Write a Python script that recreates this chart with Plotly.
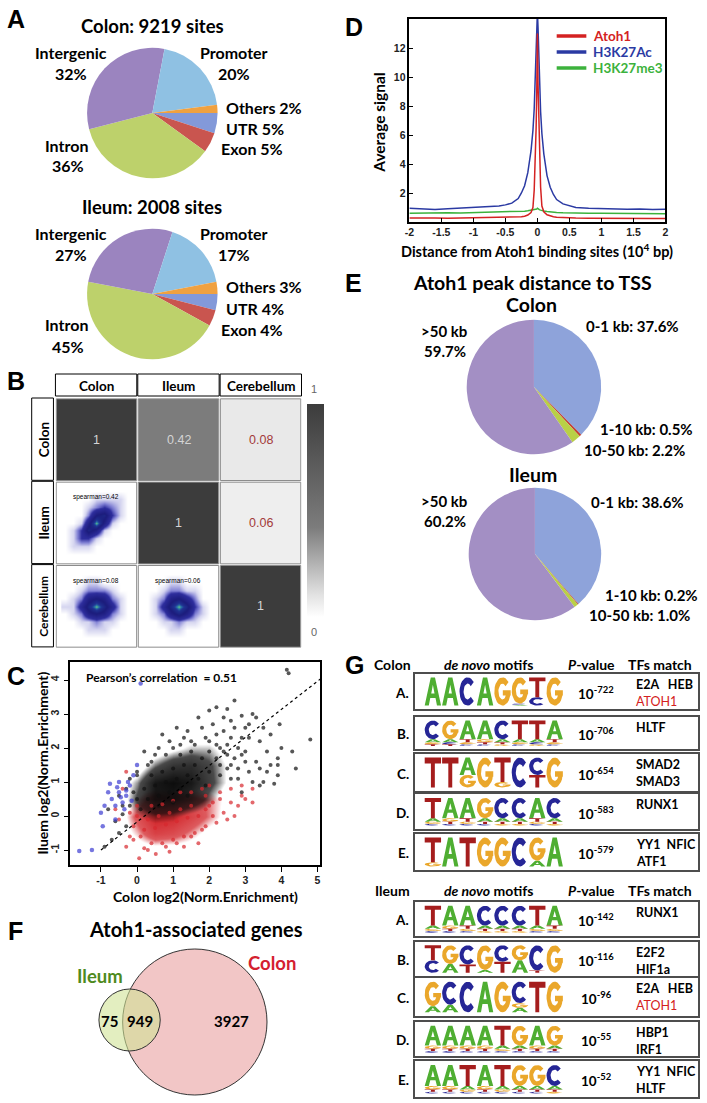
import math
import plotly.graph_objects as go

W, H = 707, 1103
TXT = "Lato, 'Open Sans', sans-serif"
NUM = "'Liberation Sans', Arial, sans-serif"


def fx(x):
    return x / W


def fy(y):
    return 1 - y / H


# ---------------- data ----------------
# A: genomic annotation of Atoh1 binding sites
anno_regions = ["UTR", "Exon", "Intron", "Intergenic", "Promoter", "Others"]
colon_anno_pct = [5, 5, 36, 32, 20, 2]
ileum_anno_pct = [4, 4, 45, 27, 17, 3]
colon_sites = 9219
ileum_sites = 2008

# B: correlation matrix
tissues = ["Colon", "Ileum", "Cerebellum"]
corr_values = [[1, 0.42, 0.08], [None, 1, 0.06], [None, None, 1]]
spearman_cells = [(1, 0, 0.42), (2, 0, 0.08), (2, 1, 0.06)]
grid_pos = [0.1, 0.2, 0.3, 0.4, 0.5, 0.6, 0.7, 0.8, 0.9]
dens_ileum_colon = [
    [0, 0, 0, 0, 0, 0, 0, 0, 0],
    [0, 1, 1, 1, 0, 0, 0, 0, 0],
    [0, 1, 3, 3, 1, 0, 0, 0, 0],
    [0, 1, 3, 7, 5, 1, 0, 0, 0],
    [0, 0, 1, 5, 10, 5, 1, 0, 0],
    [0, 0, 0, 2, 6, 7, 3, 1, 0],
    [0, 0, 0, 1, 2, 3, 2, 1, 0],
    [0, 0, 0, 0, 1, 1, 1, 1, 0],
    [0, 0, 0, 0, 0, 0, 0, 0, 0],
]
dens_cereb_colon = [
    [0, 0, 0, 0, 0, 0, 0, 0, 0],
    [0, 0, 0, 1, 1, 1, 0, 0, 0],
    [0, 0, 1, 1, 2, 1, 1, 0, 0],
    [0, 1, 2, 5, 6, 5, 2, 1, 0],
    [1, 1, 4, 7, 10, 7, 4, 1, 0],
    [0, 1, 2, 5, 6, 5, 2, 1, 0],
    [0, 0, 1, 2, 2, 2, 1, 0, 0],
    [0, 0, 0, 1, 1, 0, 0, 0, 0],
    [0, 0, 0, 0, 0, 0, 0, 0, 0],
]
dens_cereb_ileum = [
    [0, 0, 0, 0, 0, 0, 0, 0, 0],
    [0, 0, 0, 1, 1, 0, 0, 0, 0],
    [0, 0, 1, 1, 2, 1, 1, 0, 0],
    [0, 1, 2, 5, 7, 5, 2, 1, 0],
    [0, 1, 4, 7, 10, 7, 3, 1, 0],
    [0, 1, 2, 5, 6, 4, 2, 0, 0],
    [0, 0, 1, 2, 2, 1, 1, 0, 0],
    [0, 0, 0, 1, 1, 0, 0, 0, 0],
    [0, 0, 0, 0, 0, 0, 0, 0, 0],
]

# C: colon vs ileum enrichment
c_grid_x = [-0.5, 0.0, 0.5, 1.0, 1.5, 2.0, 2.5, 3.0]
c_black_grid_y = [-0.5, 0.0, 0.5, 1.0, 1.5, 2.0, 2.5]
c_black_density = [
    [0, 0, 0, 0, 0, 0, 0, 0],
    [0, 0.2, 0.35, 0.3, 0.1, 0, 0, 0],
    [0, 0.5, 0.9, 0.9, 0.7, 0.35, 0, 0],
    [0, 0.35, 0.9, 1.0, 0.9, 0.55, 0.2, 0],
    [0, 0, 0.4, 0.65, 0.7, 0.5, 0.2, 0],
    [0, 0, 0, 0.15, 0.3, 0.3, 0.1, 0],
    [0, 0, 0, 0, 0, 0, 0, 0],
]
c_red_grid_y = [-1.0, -0.5, 0.0, 0.5, 1.0]
c_red_density = [
    [0, 0, 0, 0, 0, 0, 0, 0],
    [0, 0.3, 0.7, 0.6, 0.35, 0.1, 0, 0],
    [0, 0.55, 1.0, 0.95, 0.7, 0.4, 0.1, 0],
    [0, 0.25, 0.6, 0.6, 0.55, 0.4, 0.15, 0],
    [0, 0, 0, 0, 0, 0, 0, 0],
]
c_black_x = [0.3, 0.6, 0.9, 1.2, 0.5, 0.8, 1.1, 1.4, 0.2, 0.0, 0.4, 0.7, 1.0, 1.3, 1.6, 1.8, 1.5, 2.0,
             2.2, 1.7, 2.0, 1.9, 2.3, 2.5, 0.1, -0.2, -0.1, 0.6, 1.0, 1.4, 0.3, 1.2, 2.6, 2.8, 2.4, 1.9,
             2.7, 2.2, 2.5, 2.9, 3.2, 3.0, 3.4, 3.6, 3.3, 3.7, 3.9, 3.9, 3.6, 3.2, 2.9, 0.7, 1.3, 1.5,
             4.15, 4.2, 4.8, 3.95, 3.5, 3.1, 2.8, 2.6, 3.4, 2.1, 1.8, 1.0, 0.5, -0.2, -0.5, -0.8,
             -0.9, -0.7, -0.5, -0.3, 3.9, 4.0, 3.7, 2.4, 3.3, 1.7, 2.2, 2.7, 3.0, 2.6, 2.3, 0.2,
             0.9, 3.5, 3.1, 2.9, 3.4, 2.5, 4.3, 4.4, 3.8, 2.0, 1.1, -0.6, -0.4, 0.0,
             2.4, 2.7, 2.2, 2.0, 1.6, 1.2, 0.8, 0.4, 0.0, -0.3, 2.9, 3.1, 2.6, 2.3, 2.5, 2.8, 3.0,
             1.4, 0.6, -0.4]
c_black_y = [0.5, 0.6, 0.7, 0.8, 0.9, 1.0, 1.1, 1.2, 0.8, 0.5, 1.2, 1.3, 1.4, 1.5, 1.5, 1.7, 1.9, 1.9,
             2.1, 1.1, 1.3, 0.9, 1.5, 1.8, 0.2, 0.3, 0.7, 0.3, 0.4, 0.6, 1.5, 1.8, 2.3, 2.0, 2.5, 2.3,
             3.4, 3.2, 3.15, 2.95, 3.0, 2.6, 2.2, 1.9, 1.6, 1.5, 1.7, 1.5, 1.3, 1.0, 0.7, 2.4, 2.3, 2.2,
             4.3, 4.2, 2.25, 2.7, 2.6, 2.3, 1.4, 1.1, 0.9, 2.7, 2.6, 2.0, 1.8, 1.1, 0.6, 0.2,
             -0.9, -0.7, -0.5, -0.3, 1.2, 2.0, 2.4, 2.9, 2.9, 2.9, 2.4, 2.6, 1.9, 1.5, 1.2, 1.9,
             2.2, 1.0, 1.3, 1.8, 1.4, 2.1, 1.9, 1.4, 0.95, 3.1, 2.6, -0.15, 0.05, 1.3,
             1.9, 1.7, 1.7, 2.2, 2.1, 2.1, 1.8, 1.6, 1.2, 0.8, 2.3, 2.7, 2.8, 2.0, 1.4, 1.1, 1.6,
             2.5, 2.0, 0.3]
c_red_x = [0.52, 0.06, -0.2, -0.3, 0.2, 0.8, 1.1, 1.5, 1.8, 2.2, 2.4, 2.6, 2.8, 2.3, 3.0, 2.0, 1.8, 2.5,
           -0.5, -0.6, -0.4, -0.3, 0.9, 1.3, 2.7, 1.2, 0.0, 0.3, 0.6, 0.9, 1.2, 1.5, 0.2, 0.5, 0.8,
           1.1, 1.4, 1.7, 1.9, 2.1, 0.4, 0.7, 1.0, -0.1, 3.2, 2.9,
           1.6, 1.9, 2.1, 2.3, 1.9, 0.1, -0.1, 0.4, 0.7, 1.0, 1.3, 2.6, 2.9, 3.2, 0.0, -0.2, 1.5,
           2.0, 0.3, 1.7]
c_red_y = [-1.12, -1.24, -0.6, -0.9, -0.95, -0.9, -0.8, -0.6, -0.4, -0.2, 0.1, 0.4, 0.3, 0.7, 0.5, 0.9,
           0.8, -0.1, -0.1, 0.2, 0.8, 1.3, -1.05, -0.9, 0.0, 0.7, 0.0, -0.1, 0.0, 0.1, 0.2, 0.3, -0.4,
           -0.35, -0.25, -0.15, -0.05, 0.0, 0.2, 0.4, 0.3, 0.35, 0.45, -0.7, 0.8, 0.6,
           -0.5, -0.3, 0.0, 0.5, 0.6, -0.6, -0.3, -0.8, -0.8, -0.7, -0.6, 0.8, 0.9, 0.4, 0.3, 0.1, 0.7,
           0.3, -1.0, -0.8]
c_blue_x = [-0.7, -0.5, -0.6, -0.4, -0.3, -0.2, -0.5, -0.8, -0.35, -0.1, 0.0, -0.9, -0.6, 0.1, -1.6,
            -1.25, -1.0, -0.25, -0.45, -0.15, -0.95, -0.55, -0.75, -0.3]
c_blue_y = [0.5, 0.7, 0.3, 0.4, 0.6, 0.9, 1.0, 0.7, 0.2, 1.2, 1.5, 0.3, -0.1, 3.9, -1.03, -1.0, 0.1,
            1.0, 0.55, 0.45, -0.3, 0.85, 0.95, 0.75]
fit_x = [-1.0, 5.08]
fit_y = [-1.0, 4.03]
pearson_r = 0.51
c_xticks = [-1, 0, 1, 2, 3, 4, 5]
c_yticks = [-1, 0, 1, 2, 3, 4]

# D: average signal around Atoh1 sites
d_x = [-2.0, -1.8, -1.6, -1.4, -1.2, -1.0, -0.8, -0.6, -0.5, -0.4, -0.3, -0.25, -0.2, -0.15, -0.1,
       -0.07, -0.05, -0.03, -0.02, -0.01, 0.0, 0.01, 0.02, 0.03, 0.05, 0.07, 0.1, 0.15, 0.2, 0.25,
       0.3, 0.4, 0.5, 0.6, 0.8, 1.0, 1.2, 1.4, 1.6, 1.8, 2.0]
d_atoh1 = [0.28, 0.25, 0.27, 0.26, 0.28, 0.27, 0.29, 0.3, 0.3, 0.32, 0.35, 0.37, 0.4, 0.48, 0.65,
           1.0, 2.2, 4.5, 6.5, 9.0, 13.0, 9.5, 7.0, 5.0, 2.4, 1.1, 0.7, 0.5, 0.42, 0.36,
           0.33, 0.3, 0.28, 0.27, 0.26, 0.25, 0.26, 0.24, 0.25, 0.24, 0.25]
d_h3k27ac = [0.94, 0.9, 0.87, 0.92, 0.96, 0.98, 1.04, 1.1, 1.18, 1.3, 1.62, 2.0, 2.5, 3.4, 4.9,
             6.3, 7.8, 10.0, 11.6, 13.2, 14.5, 13.4, 11.4, 9.8, 7.6, 6.1, 4.7, 3.2, 2.4, 1.9,
             1.55, 1.25, 1.1, 1.0, 0.95, 0.92, 0.9, 0.88, 0.9, 0.86, 0.88]
d_h3k27me3 = [0.6, 0.62, 0.6, 0.63, 0.62, 0.64, 0.65, 0.67, 0.68, 0.7, 0.72, 0.73, 0.75, 0.77, 0.8,
              0.82, 0.84, 0.86, 0.88, 0.9, 0.95, 0.9, 0.87, 0.85, 0.82, 0.79, 0.76, 0.73, 0.7, 0.68,
              0.66, 0.64, 0.62, 0.61, 0.6, 0.6, 0.59, 0.6, 0.58, 0.58, 0.57]
d_xticks = [-2, -1.5, -1, -0.5, 0, 0.5, 1, 1.5, 2]
d_xticktext = ["-2", "-1.5", "-1", "-0.5", "0", "0.5", "1", "1.5", "2"]
d_yticks = [2, 4, 6, 8, 10, 12]

# E: distance to TSS
tss_bins = ["0-1 kb", "1-10 kb", "10-50 kb", ">50 kb"]
colon_tss_pct = [37.6, 0.5, 2.2, 59.7]
ileum_tss_pct = [38.6, 0.2, 1.0, 60.2]

# F: Atoh1-associated genes
venn_ileum_only = 75
venn_shared = 949
venn_colon_only = 3927

# G: de novo motifs (columns, bottom -> top, "letter:height")
colon_motifs = [
    ["A:1", "A:1", "C:1", "A:1", "G:1", "A:.03 C:.04 G:.93", "C:.3 T:.7", "G:1"],
    ["T:.06 G:.08 A:.12 C:.72", "T:.06 C:.08 A:.12 G:.72", "C:.06 G:.08 T:.12 A:.72",
     "C:.06 T:.08 G:.12 A:.72", "G:.06 T:.08 A:.12 C:.72", "C:.06 G:.08 A:.12 T:.72",
     "G:.06 C:.08 A:.12 T:.72", "C:.06 G:.08 T:.12 A:.72"],
    ["T:1", "T:1", "G:.42 A:.58", "G:1", "G:.18 T:.82", "C:1", "T:.42 C:.58", "G:1"],
    ["C:.06 G:.08 A:.12 T:.72", "C:.06 T:.08 G:.12 A:.72", "C:.06 G:.08 T:.12 A:.72",
     "C:.06 T:.08 A:.12 G:.72", "G:.06 T:.08 A:.12 C:.72", "G:.06 T:.08 A:.12 C:.72",
     "C:.06 G:.08 T:.12 A:.72", "G:.06 T:.08 A:.12 C:.72"],
    ["G:.15 T:.85", "A:1", "T:1", "G:1", "G:1", "C:1", "A:.2 G:.8", "A:1"],
]
colon_pvals = [722, 706, 654, 583, 579]
colon_tfs = [["E2A   HEB", "ATOH1"], ["HLTF", ""], ["SMAD2", "SMAD3"], ["RUNX1", ""], ["YY1  NFIC", "ATF1"]]
ileum_motifs = [
    ["C:.06 G:.08 A:.12 T:.72", "C:.06 T:.08 G:.12 A:.72", "C:.06 G:.08 T:.12 A:.72",
     "G:.06 T:.08 A:.12 C:.72", "G:.06 T:.08 A:.12 C:.72", "G:.06 T:.08 A:.12 C:.72",
     "C:.06 G:.08 A:.12 T:.72", "C:.06 G:.08 T:.12 A:.72"],
    ["C:.45 T:.55", "A:.32 G:.68", "T:.3 C:.7", "A:.1 G:.9", "T:.4 C:.6", "A:.45 G:.55",
     "T:.08 C:.92", "G:1"],
    ["A:.2 G:.8", "A:.25 C:.75", "C:1", "A:1", "G:1", "A:.15 G:.15 C:.7", "T:1", "G:1"],
    ["C:.06 T:.08 G:.12 A:.72", "C:.06 T:.08 G:.12 A:.72", "C:.06 T:.08 G:.12 A:.72",
     "C:.06 T:.08 G:.12 A:.72", "C:.06 G:.08 A:.12 T:.72", "C:.06 T:.08 A:.12 G:.72",
     "C:.06 T:.08 G:.12 A:.72", "C:.06 T:.08 A:.12 G:.72"],
    ["C:.06 T:.08 G:.12 A:.72", "C:.06 T:.08 G:.12 A:.72", "C:.06 G:.08 A:.12 T:.72",
     "C:.06 T:.08 G:.12 A:.72", "C:.06 G:.08 A:.12 T:.72", "C:.06 T:.08 A:.12 G:.72",
     "C:.06 T:.08 A:.12 G:.72", "G:.06 T:.08 A:.12 C:.72"],
]
ileum_pvals = [142, 116, 96, 55, 52]
ileum_tfs = [["RUNX1", ""], ["E2F2", "HIF1a"], ["E2A   HEB", "ATOH1"], ["HBP1", "IRF1"], ["YY1  NFIC", "HLTF"]]

# ---------------- figure ----------------
fig = go.Figure()
annotations = []
shapes = []
axes = {}


def text(x, y, s, size=13, color="black", family=TXT, bold=True, xanchor="center", angle=0):
    if bold:
        s = f"<b>{s}</b>"
    annotations.append(dict(x=fx(x), y=fy(y), xref="paper", yref="paper", text=s, showarrow=False,
                            font=dict(size=size, color=color, family=family), xanchor=xanchor,
                            yanchor="middle", textangle=angle))


def box(x0, y0, x1, y1, color="black", width=1):
    shapes.append(dict(type="rect", xref="paper", yref="paper", x0=fx(x0), x1=fx(x1),
                       y0=fy(y1), y1=fy(y0), line=dict(color=color, width=width)))


def add_axes(n, x0, y0, x1, y1, xr, yr, xopts=None, yopts=None):
    suffix = "" if n == 1 else str(n)
    base = dict(showgrid=False, zeroline=False, showticklabels=False, ticks="", fixedrange=True)
    axes["xaxis" + suffix] = dict(base, domain=[fx(x0), fx(x1)], range=xr, anchor="y" + suffix,
                                  **(xopts or {}))
    axes["yaxis" + suffix] = dict(base, domain=[fy(y1), fy(y0)], range=yr, anchor="x" + suffix,
                                  **(yopts or {}))


def bold_ticks(vals, labels=None):
    labels = labels or [f"{v:g}" for v in vals]
    return dict(tickvals=vals, ticktext=[f"<b>{t}</b>" for t in labels])


# panel letters
for letter, (x, y) in {"A": (11, 19), "B": (11, 381), "C": (11, 676), "D": (353, 27),
                       "E": (352, 283), "F": (11, 931), "G": (353, 665)}.items():
    text(x, y, letter, size=25, family=NUM)

# ---- A ----
anno_colors = {"UTR": "#8399d9", "Exon": "#c9554f", "Intron": "#bdd16b",
               "Intergenic": "#9b84bf", "Promoter": "#8fc1e3", "Others": "#f0a140"}
for pct, (cx, cy, r) in [(colon_anno_pct, (149, 113, 66)), (ileum_anno_pct, (149, 294, 66))]:
    fig.add_trace(go.Pie(
        labels=anno_regions, values=pct, sort=False, direction="clockwise", rotation=90,
        textinfo="none", showlegend=False, hoverinfo="label+percent",
        marker=dict(colors=[anno_colors[k] for k in anno_regions], line=dict(width=0)),
        domain=dict(x=[fx(cx - r), fx(cx + r)], y=[fy(cy + r), fy(cy - r)]),
    ))
text(149, 26, f"Colon: {colon_sites} sites", size=18.5)
text(149, 207, f"Ileum: {ileum_sites} sites", size=18.5)
for pct, dy in [(colon_anno_pct, 0), (ileum_anno_pct, 180)]:
    v = dict(zip(anno_regions, pct))
    text(67, 53 + dy, "Intergenic", size=16)
    text(67, 74 + dy, f"{v['Intergenic']}%", size=16)
    text(232, 53 + dy, "Promoter", size=16)
    text(232, 74 + dy, f"{v['Promoter']}%", size=16)
    text(62, 145 + dy, "Intron", size=16)
    text(64, 166 + dy, f"{v['Intron']}%", size=16)
    text(222, 107 + dy, f"Others {v['Others']}%", size=16, xanchor="left")
    text(222, 128 + dy, f"UTR {v['UTR']}%", size=16, xanchor="left")
    text(216, 149 + dy, f"Exon {v['Exon']}%", size=16, xanchor="left")

# ---- B ----
add_axes(1, 51, 398, 300, 648, [-0.5, 2.5], [2.5, -0.5])
fig.add_trace(go.Heatmap(
    x=[0, 1, 2], y=[0, 1, 2], z=corr_values, zmin=0, zmax=1, xgap=2, ygap=2,
    colorscale=[[0, "#ffffff"], [0.1, "#e3e3e3"], [0.42, "#7c7c7c"], [1, "#3c3c3c"]],
    hoverinfo="skip",
    colorbar=dict(x=fx(305), xanchor="left", y=fy(617), yanchor="bottom", len=213 / H,
                  thickness=17, outlinewidth=0, showticklabels=False, ticks="", xpad=0, ypad=0),
))
for i in range(3):
    for j in range(3):
        shapes.append(dict(type="rect", xref="x", yref="y", x0=j - 0.49, x1=j + 0.49,
                           y0=i - 0.49, y1=i + 0.49, line=dict(color="#8c8c8c", width=1)))
        val = corr_values[i][j]
        if val is not None:
            col = "#a33a3a" if val < 0.2 else "#d4d4d4"
            annotations.append(dict(x=j, y=i, xref="x", yref="y", text=f"{val:g}", showarrow=False,
                                    font=dict(size=12.5, color=col, family=NUM)))
for k, name in enumerate(tissues):
    box(51 + k * 83.3, 374, 51 + (k + 1) * 83.3 - 1, 396)
    text(51 + (k + 0.5) * 83.3, 386, name, size=13.5)
    box(27, 398 + k * 83.3, 49, 398 + (k + 1) * 83.3 - 1)
    text(39, 398 + (k + 0.5) * 83.3, name, size=13.5 if k < 2 else 12, angle=-90)
text(313, 389, "1", size=11, color="#666", family=NUM, bold=False)
text(313, 632, "0", size=11, color="#666", family=NUM, bold=False)

dens_scale = [[0, "#ffffff"], [0.1, "#d6d6f0"], [0.2, "#8080d4"], [0.3, "#2e2e9e"],
              [0.6, "#1c1c7c"], [0.82, "#203494"], [0.93, "#2c86ac"], [1, "#70c878"]]
for n, (row, col, rho), dens in zip([2, 3, 4], spearman_cells,
                                   [dens_ileum_colon, dens_cereb_colon, dens_cereb_ileum]):
    x0 = 51 + col * 83.3 + 2
    y0 = 398 + row * 83.3 + 2
    add_axes(n, x0, y0, x0 + 79, y0 + 79, [0, 1], [0, 1])
    fig.add_trace(go.Heatmap(x=grid_pos, y=grid_pos, z=dens, zsmooth="best", colorscale=dens_scale,
                             zmin=0, zmax=10, showscale=False, hoverinfo="skip",
                             xaxis=f"x{n}", yaxis=f"y{n}"))
    text(x0 + 39, y0 + 14, f"spearman={rho:g}", size=6.5, family=NUM, bold=False)

# ---- C ----
tick_font = dict(size=10.5, family=NUM, color="#222")
frame = dict(showline=True, mirror=True, linecolor="black", linewidth=1.5, ticks="outside",
             ticklen=5, tickcolor="black", showticklabels=True, tickfont=tick_font)
add_axes(5, 66, 662, 319, 865, [-1.85, 5.08], [-1.44, 4.53],
         xopts=dict(frame, **bold_ticks(c_xticks)),
         yopts=dict(frame, tickangle=-90, **bold_ticks(c_yticks)))
for xs, ys, dens, color in [(c_grid_x, c_red_grid_y, c_red_density, "210,35,40"),
                            (c_grid_x, c_black_grid_y, c_black_density, "12,12,12")]:
    fig.add_trace(go.Heatmap(
        x=xs, y=ys, z=dens, zmin=0, zmax=1, zsmooth="best", showscale=False, hoverinfo="skip",
        colorscale=[[0, f"rgba({color},0)"], [0.22, f"rgba({color},0)"],
                    [0.45, f"rgba({color},0.75)"], [1, f"rgba({color},1)"]],
        xaxis="x5", yaxis="y5"))
for xs, ys, color, size in [(c_red_x, c_red_y, "rgba(215,40,45,0.7)", 4),
                            (c_black_x, c_black_y, "rgba(15,15,15,0.7)", 4),
                            (c_blue_x, c_blue_y, "rgba(60,60,210,0.7)", 4.5)]:
    fig.add_trace(go.Scatter(x=xs, y=ys, mode="markers", marker=dict(color=color, size=size),
                             xaxis="x5", yaxis="y5", showlegend=False, hoverinfo="skip"))
fig.add_trace(go.Scatter(x=fit_x, y=fit_y, mode="lines", line=dict(color="black", width=1.2, dash="dot"),
                         xaxis="x5", yaxis="y5", showlegend=False, hoverinfo="skip"))
text(80, 677, f"Pearson’s correlation  = {pearson_r}", size=12, xanchor="left")
text(203, 896, "Colon log2(Norm.Enrichment)", size=14)
text(37, 763, "Iluem log2(Norm.Enrichment)", size=14, angle=-90)

# ---- D ----
frame_in = dict(frame, ticks="inside", ticklen=4)
add_axes(6, 409, 19, 668, 222, [-2, 2], [0, 14],
         xopts=dict(frame_in, **bold_ticks(d_xticks, d_xticktext)),
         yopts=dict(frame_in, **bold_ticks(d_yticks)))
d_series = [("Atoh1", d_atoh1, "#d42222"), ("H3K27Ac", d_h3k27ac, "#2b3aa3"),
            ("H3K27me3", d_h3k27me3, "#3cb23c")]
for name, ys, color in [d_series[2], d_series[1], d_series[0]]:
    fig.add_trace(go.Scatter(x=d_x, y=ys, mode="lines", line=dict(color=color, width=1.5),
                             name=name, xaxis="x6", yaxis="y6", showlegend=False))
for k, (name, ys, color) in enumerate(d_series):
    y = 36 + k * 16
    shapes.append(dict(type="line", xref="paper", yref="paper", x0=fx(558), x1=fx(588),
                       y0=fy(y), y1=fy(y), line=dict(color=color, width=3.5)))
    text(593, y, name, size=13.5, color=color, xanchor="left")
text(378, 123, "Average signal", size=15.5, angle=-90)
text(538, 250, "Distance from Atoh1 binding sites (10<sup>4</sup> bp)", size=14.5)

# ---- E ----
tss_colors = ["#8ea3da", "#c23b30", "#b9d046", "#a38fc4"]
for pct, (cx, cy, r) in [(colon_tss_pct, (535, 387, 68)), (ileum_tss_pct, (536, 554, 67))]:
    fig.add_trace(go.Pie(
        labels=tss_bins, values=pct, sort=False, direction="clockwise", rotation=0,
        textinfo="none", showlegend=False, hoverinfo="label+percent",
        marker=dict(colors=tss_colors, line=dict(width=0)),
        domain=dict(x=[fx(cx - r), fx(cx + r)], y=[fy(cy + r), fy(cy - r)]),
    ))
text(534, 282, "Atoh1 peak distance to TSS", size=19.5)
text(533, 304, "Colon", size=19.5)
text(534, 475, "Ileum", size=19.5)
for pct, ys, shift in [(colon_tss_pct, (331, 351, 326, 429, 450), 0),
                       (ileum_tss_pct, (501, 521, 502, 595, 615), 5)]:
    text(444, ys[0], tss_bins[3], size=15)
    text(445, ys[1], f"{pct[3]}%", size=15)
    text(586 + shift, ys[2], f"{tss_bins[0]}: {pct[0]}%", size=15, xanchor="left")
    text(600 + shift, ys[3], f"{tss_bins[1]}: {pct[1]}%", size=15, xanchor="left")
    text(584 + shift, ys[4], f"{tss_bins[2]}: {pct[2]:.1f}%", size=15, xanchor="left")

# ---- F ----
add_axes(7, 0, 940, 330, 1103, [0, 330], [0, 163])
shapes.append(dict(type="circle", xref="x7", yref="y7", x0=119, x1=265, y0=8, y1=154,
                   fillcolor="#f2c6c6", line=dict(color="#333", width=1)))
shapes.append(dict(type="circle", xref="x7", yref="y7", x0=95, x1=157, y0=52, y1=114,
                   fillcolor="rgba(208,226,150,0.6)", line=dict(color="#333", width=1)))
fig.add_trace(go.Scatter(x=[None], y=[None], xaxis="x7", yaxis="y7", showlegend=False))
for x, val in [(106, venn_ileum_only), (137, venn_shared), (229, venn_colon_only)]:
    annotations.append(dict(x=x, y=82, xref="x7", yref="y7", text=f"<b>{val}</b>", showarrow=False,
                            font=dict(size=15, family=TXT, color="black")))
text(193, 929, "Atoh1-associated genes", size=20)
text(96, 976, "Ileum", size=18.5, color="#4e8a20")
text(270, 963, "Colon", size=18.5, color="#d42030")

# ---- G ----
LETTER_COLORS = {"A": "#4fae32", "C": "#262696", "G": "#eaa72b", "T": "#a51d1d"}


def arc(cx, cy, rx, ry, a0, a1, n=24):
    return [(cx + rx * math.cos(math.radians(a0 + (a1 - a0) * i / n)),
             cy + ry * math.sin(math.radians(a0 + (a1 - a0) * i / n))) for i in range(n + 1)]


def glyph(letter):
    if letter == "T":
        return [[(0, 1), (1, 1), (1, 0.8), (0.62, 0.8), (0.62, 0), (0.38, 0), (0.38, 0.8), (0, 0.8)]], []
    if letter == "A":
        return ([[(0, 0), (0.37, 1), (0.63, 1), (1, 0), (0.75, 0), (0.66, 0.27), (0.34, 0.27), (0.25, 0)]],
                [[(0.4, 0.43), (0.6, 0.43), (0.5, 0.74)]])
    if letter == "C":
        return [arc(0.5, 0.5, 0.5, 0.5, 42, 318) + arc(0.5, 0.5, 0.25, 0.28, 318, 42)], []
    return [arc(0.5, 0.5, 0.5, 0.5, 42, 360) + arc(0.5, 0.5, 0.25, 0.28, 360, 42),
            [(0.52, 0.36), (1, 0.36), (1, 0.54), (0.52, 0.54)]], []


def add_logo(n, columns):
    pts = {k: ([], []) for k in LETTER_COLORS}
    holes = ([], [])
    for k, col in enumerate(columns, start=1):
        base = 0.0
        for item in col.split():
            letter, h = item.split(":")
            h = float(h)
            polys, cut = glyph(letter)
            for target, group in [(pts[letter], polys), (holes, cut)]:
                for poly in group:
                    for ux, uy in poly:
                        target[0].append(k - 0.47 + 0.94 * ux)
                        target[1].append(base + h * uy)
                    target[0].append(None)
                    target[1].append(None)
            base += h
    for letter, color in list(LETTER_COLORS.items()) + [("hole", "#ffffff")]:
        xs, ys = holes if letter == "hole" else pts[letter]
        fig.add_trace(go.Scatter(x=xs, y=ys, mode="lines", fill="toself", fillcolor=color,
                                 line=dict(width=0, color=color), xaxis=f"x{n}", yaxis=f"y{n}",
                                 showlegend=False, hoverinfo="skip"))


logo_frame = dict(showline=True, mirror=True, linecolor="#4d4d4d", linewidth=2)
colon_boxes = [(674, 709), (717, 749), (754, 791), (794, 829), (834, 870)]
ileum_boxes = [(902, 936), (942, 976), (978, 1016), (1022, 1056), (1061, 1097)]
n = 8
for tissue, head_y, motifs, pvals, tfs, boxes in [
        ("Colon", 664, colon_motifs, colon_pvals, colon_tfs, colon_boxes),
        ("Ileum", 890, ileum_motifs, ileum_pvals, ileum_tfs, ileum_boxes)]:
    text(392, head_y, tissue, size=14)
    text(489, head_y, "<i>de novo</i> motifs", size=14)
    text(593, head_y, "<i>P</i>-value", size=14)
    text(662, head_y, "TFs match", size=14)
    for k, (motif, p, tf, (y0, y1)) in enumerate(zip(motifs, pvals, tfs, boxes)):
        add_axes(n, 415, y0, 701, y1, [-0.01, 16.24], [-0.12, 1.12], xopts=logo_frame, yopts=logo_frame)
        add_logo(n, motif)
        n += 1
        yc = (y0 + y1) / 2
        text(411, yc + 1, "ABCDE"[k] + ".", size=13.5, xanchor="right")
        text(598, yc + 1, f"10<sup>-{p}</sup>", size=13.5)
        for line, dy in zip(tf, [10, 27]):
            if line == "ATOH1":
                text(636, y0 + dy, line, size=12.5, color="#d42020", bold=False, xanchor="left")
            elif line:
                text(636, y0 + dy, line, size=12.5, xanchor="left")

fig.update_layout(
    width=W, height=H, margin=dict(l=0, r=0, t=0, b=0),
    paper_bgcolor="white", plot_bgcolor="white",
    font=dict(family=TXT, color="black"),
    showlegend=False, annotations=annotations, shapes=shapes, **axes,
)
fig.write_html("out.html", config={"displayModeBar": False},
               post_script="document.body.style.margin='0';")
